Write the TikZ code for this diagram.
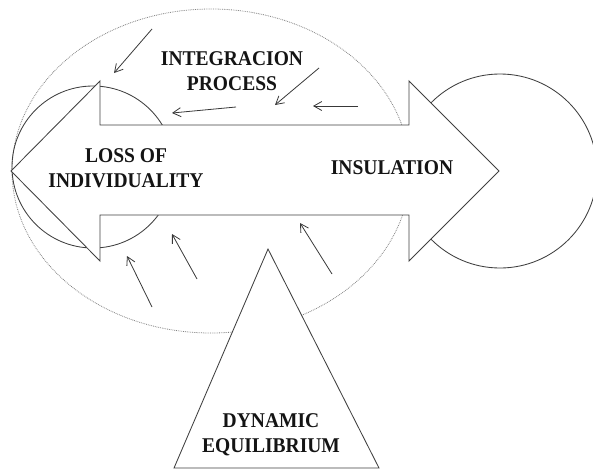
\documentclass[tikz,border=0pt]{standalone}
\usepackage{fontspec}
\setmainfont{Liberation Serif}[FakeStretch=0.93]
\usetikzlibrary{arrows.meta}
\begin{document}
\begin{tikzpicture}[x=1pt,y=-1pt,
  outline/.style={draw=black!75, line width=0.85pt, line join=miter},
  halo/.style={draw=black!50, densely dotted, line width=0.8pt},
  push/.style={draw=black!78, line width=0.8pt, -{Straight Barb[length=8pt,width=9pt]}},
  lbl/.style={font=\bfseries\fontsize{21}{25}\selectfont, align=center, text=black!92, inner sep=0pt}]
\useasboundingbox (0,0) rectangle (593,469);
\begin{scope}
\clip (0,0) rectangle (593,469);
% dotted surrounding ellipse
\draw[halo] (211,171) ellipse [x radius=199, y radius=162];
% circles behind the arrow heads
\draw[outline] (93,167) circle [radius=81];
\draw[outline] (500,171) circle [radius=97];
% double arrow
\draw[outline, fill=white] (11,171) -- (100,81) -- (100,125) -- (409,125) -- (409,81)
  -- (499,171) -- (409,261) -- (409,215) -- (100,215) -- (100,261) -- cycle;
% triangle
\draw[outline, fill=white] (268,249) -- (174,468) -- (379,468) -- cycle;
\end{scope}
% small arrows
\coordinate (a1s) at (152,29);  \coordinate (a1e) at (114,73);
\coordinate (a2s) at (319,68);  \coordinate (a2e) at (275,105);
\coordinate (a3s) at (358,106); \coordinate (a3e) at (313,106);
\coordinate (a4s) at (236,107); \coordinate (a4e) at (172,113);
\coordinate (a5s) at (152,307); \coordinate (a5e) at (127,256);
\coordinate (a6s) at (197,279); \coordinate (a6e) at (172,234);
\coordinate (a7s) at (332,274); \coordinate (a7e) at (300,223);
\draw[push] (a1s) -- (a1e);
\draw[push] (a2s) -- (a2e);
\draw[push] (a3s) -- (a3e);
\draw[push] (a4s) -- (a4e);
\draw[push] (a5s) -- (a5e);
\draw[push] (a6s) -- (a6e);
\draw[push] (a7s) -- (a7e);
% labels
\node[lbl] (integ) at (232,71) {INTEGRACION\\PROCESS};
\node[lbl] (loss) at (126,168) {LOSS OF\\INDIVIDUALITY};
\node[lbl] (insul) at (392,168) {INSULATION};
\node[lbl] (dyn) at (271,435) {DYNAMIC\\EQUILIBRIUM};
\end{tikzpicture}
\end{document}
